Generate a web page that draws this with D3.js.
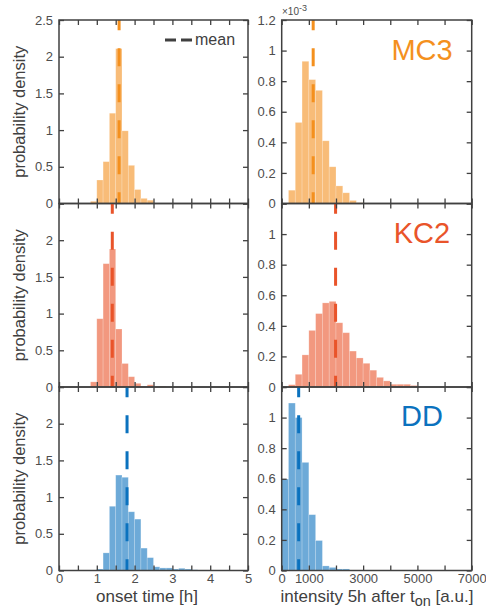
<!DOCTYPE html>
<html>
<head>
<meta charset="utf-8">
<script src="https://cdn.jsdelivr.net/npm/d3@7"></script>
<style>
  body { margin: 0; background: #fff; }
  text { font-family: "Liberation Sans", Arial, sans-serif; }
  .axis text { fill: #4d4d4d; font-size: 13px; }
  .axis line { stroke: #404040; stroke-width: 1.3; }
  .AxisLabel { fill: #404040; }
</style>
</head>
<body>
<div id="ChartContainer"></div>
<script>
var strains = ["MC3", "KC2", "DD"]
var lineColors = ["#F4901E", "#E9542A", "#0B72BE"]

// onset time histograms (probability density), bins of 1/6 h
var onsetBinWidth = 1 / 6
var onsetBinStarts = [5 / 6, 5 / 6, 1]
var mc3Onset = [0.03, 0.32, 0.57, 1.23, 2.11, 0.99, 0.52, 0.19, 0.07, 0.045]
var kc2Onset = [0.07, 0.93, 1.68, 1.88, 0.79, 0.32, 0.14, 0.05, 0.01, 0.03, 0, 0.01]
var ddOnset = [0.02, 0.24, 0.875, 1.30, 1.27, 0.80, 0.70, 0.305, 0.175, 0.05, 0.035, 0.035, 0.02, 0.03, 0.02, 0.01]
var onsetMeans = [1.59, 1.41, 1.80]

// intensity histograms (x 10^-3), bins of 250 a.u.
var intensityBinWidth = 250
var intensityBinStarts = [250, 250, 0]
var mc3Intensity = [0.087, 0.53, 0.93, 0.81, 0.74, 0.41, 0.24, 0.115, 0.07, 0.02, 0.005]
var kc2Intensity = [0.015, 0.083, 0.21, 0.37, 0.48, 0.55, 0.56, 0.42, 0.355, 0.235, 0.19, 0.155, 0.11, 0.063, 0.04, 0.018, 0.018, 0.018, 0.01]
var ddIntensity = [0.598, 1.095, 1.0, 0.707, 0.365, 0.196, 0.03, 0.02, 0.01, 0.01]
var intensityMeans = [1160, 1985, 625]

var onsetTicks = [0, 0.5, 1, 1.5, 2, 2.5, 3, 3.5, 4, 4.5, 5]
var onsetTickLabels = [0, 1, 2, 3, 4, 5]
var intensityTicks = [0, 1000, 2000, 3000, 4000, 5000, 6000, 7000]
var intensityTickLabels = [0, 1000, 3000, 5000, 7000]
var densityTicks = [0, 0.5, 1, 1.5, 2, 2.5]
var intensityDensityTicks = [0, 0.2, 0.4, 0.6, 0.8, 1, 1.2]

var onsetData = [mc3Onset, kc2Onset, ddOnset]
var intensityData = [mc3Intensity, kc2Intensity, ddIntensity]

var fullWidth = 486
var fullHeight = 616
var panelTop = 20
var panelHeight = 183.5
var tickLen = 5

var svg = d3.select("#ChartContainer").append("svg")
  .attr("width", fullWidth)
  .attr("height", fullHeight)

var xOnset = d3.scaleLinear().domain([0, 5]).range([59, 248])
var xIntensity = d3.scaleLinear().domain([0, 7000]).range([281.7, 471.7])

var dashOffset = 7.7

function drawPanel(row, x, ticks, tickLabels, yMax, yTicks, values, binStart, binWidth, mean) {
  var top = panelTop + row * panelHeight
  var bottom = top + panelHeight
  var y = d3.scaleLinear().domain([0, yMax]).range([bottom, top])
  var color = lineColors[row]
  var g = svg.append("g")

  var bins = values.map((v, i) => ({ x0: binStart + i * binWidth, x1: binStart + (i + 1) * binWidth, v: v }))
    .filter(d => d.v > 0)

  g.selectAll(".Bar")
    .data(bins)
    .enter().append("rect")
    .attr("class", "Bar")
    .attr("x", d => x(d.x0))
    .attr("width", d => x(d.x1) - x(d.x0))
    .attr("y", d => y(d.v))
    .attr("height", d => y(0) - y(d.v))
    .attr("fill", color)
    .attr("fill-opacity", 0.6)
    .attr("stroke", "#fff")
    .attr("stroke-opacity", 0.3)
    .attr("stroke-width", 0.7)

  // mean line
  g.append("line")
    .attr("x1", x(mean))
    .attr("x2", x(mean))
    .attr("y1", top)
    .attr("y2", bottom)
    .attr("stroke", color)
    .attr("stroke-width", 3)
    .attr("stroke-dasharray", "18,18")
    .attr("stroke-dashoffset", dashOffset)

  var showX = row === 2
  var fmt = d => tickLabels.indexOf(d) >= 0 ? String(d) : ""

  g.append("g")
    .attr("class", "axis")
    .attr("transform", `translate(0,${bottom})`)
    .call(d3.axisBottom(x).tickValues(ticks).tickSize(-tickLen).tickPadding(3)
      .tickFormat(showX ? fmt : ""))
  g.append("g")
    .attr("class", "axis")
    .attr("transform", `translate(0,${top})`)
    .call(d3.axisTop(x).tickValues(ticks).tickSize(-tickLen).tickFormat(""))
  g.append("g")
    .attr("class", "axis")
    .attr("transform", `translate(${x.range()[0]},0)`)
    .call(d3.axisLeft(y).tickValues(yTicks).tickSize(-tickLen).tickPadding(6)
      .tickFormat(d => (row > 0 && d === yMax) ? "" : String(d)))
  g.append("g")
    .attr("class", "axis")
    .attr("transform", `translate(${x.range()[1]},0)`)
    .call(d3.axisRight(y).tickValues(yTicks).tickSize(-tickLen).tickFormat(""))
  g.selectAll(".domain").remove()
  g.selectAll(".axis .tick text").attr("fill", "#4d4d4d")

  // box
  g.append("rect")
    .attr("x", x.range()[0])
    .attr("y", top)
    .attr("width", x.range()[1] - x.range()[0])
    .attr("height", panelHeight)
    .attr("fill", "none")
    .attr("stroke", "#404040")
    .attr("stroke-width", 1.5)

  return y
}

strains.forEach((name, row) => {
  drawPanel(row, xOnset, onsetTicks, onsetTickLabels, 2.5, densityTicks,
    onsetData[row], onsetBinStarts[row], onsetBinWidth, onsetMeans[row])
  drawPanel(row, xIntensity, intensityTicks, intensityTickLabels, 1.2, intensityDensityTicks,
    intensityData[row], intensityBinStarts[row], intensityBinWidth, intensityMeans[row])

  var top = panelTop + row * panelHeight

  // y-axis label
  svg.append("text")
    .attr("class", "AxisLabel")
    .attr("transform", "rotate(-90)")
    .attr("x", -(top + panelHeight / 2))
    .attr("y", 25)
    .attr("text-anchor", "middle")
    .attr("font-size", "16.5px")
    .text("probability density")

  // strain name
  svg.append("text")
    .attr("x", 422)
    .attr("y", top + [40, 39.5, 38.7][row])
    .attr("text-anchor", "middle")
    .attr("font-size", "29px")
    .attr("fill", lineColors[row])
    .text(name)
})

// x 10^-3 multiplier
var mult = svg.append("text")
  .attr("x", 282)
  .attr("y", 15)
  .attr("font-size", "10px")
  .attr("fill", "#4d4d4d")
mult.append("tspan").text("\u00d710")
mult.append("tspan").attr("dy", -4).attr("font-size", "9px").text("-3")

// legend
svg.append("line")
  .attr("x1", 165)
  .attr("x2", 192)
  .attr("y1", 40)
  .attr("y2", 40)
  .attr("stroke", "#404040")
  .attr("stroke-width", 3)
  .attr("stroke-dasharray", "11,5")
svg.append("text")
  .attr("x", 195)
  .attr("y", 45)
  .attr("font-size", "16px")
  .attr("fill", "#404040")
  .text("mean")

// x-axis labels
svg.append("text")
  .attr("class", "AxisLabel")
  .attr("x", 147)
  .attr("y", 602)
  .attr("text-anchor", "middle")
  .attr("font-size", "17px")
  .text("onset time [h]")

var xl = svg.append("text")
  .attr("class", "AxisLabel")
  .attr("x", 377)
  .attr("y", 602)
  .attr("text-anchor", "middle")
  .attr("font-size", "17px")
xl.append("tspan").text("intensity 5h after t")
xl.append("tspan").attr("dy", 4).attr("font-size", "14.5px").text("on")
xl.append("tspan").attr("dy", -4).text(" [a.u.]")
</script>
</body>
</html>
